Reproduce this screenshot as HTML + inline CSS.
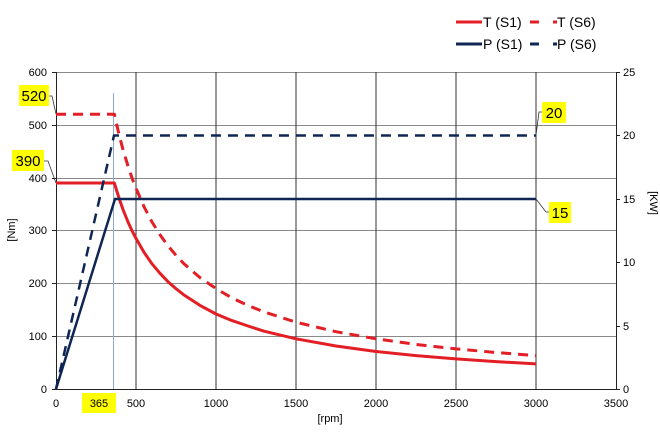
<!DOCTYPE html>
<html><head><meta charset="utf-8"><style>
body{margin:0;background:#fff;}
svg text{font-family:"Liberation Sans",Arial,sans-serif;}
</style></head><body>
<svg width="660" height="428" viewBox="0 0 660 428" xmlns="http://www.w3.org/2000/svg">
<rect width="660" height="428" fill="#fff"/>
<g stroke="#8a8a8a" stroke-width="1">
<line x1="56" y1="72.5" x2="616" y2="72.5"/>
<line x1="56" y1="125.5" x2="616" y2="125.5"/>
<line x1="56" y1="178.5" x2="616" y2="178.5"/>
<line x1="56" y1="230.5" x2="616" y2="230.5"/>
<line x1="56" y1="283.5" x2="616" y2="283.5"/>
<line x1="56" y1="336.5" x2="616" y2="336.5"/>
</g>
<g stroke="#333" stroke-width="1">
<line x1="136" y1="72" x2="136" y2="389"/>
<line x1="216" y1="72" x2="216" y2="389"/>
<line x1="296" y1="72" x2="296" y2="389"/>
<line x1="376" y1="72" x2="376" y2="389"/>
<line x1="456" y1="72" x2="456" y2="389"/>
<line x1="536" y1="72" x2="536" y2="389"/>
</g>
<line x1="113.5" y1="93" x2="113.5" y2="389" stroke="#8fa9cc" stroke-width="1"/>
<g stroke="#222" stroke-width="1">
<line x1="56.5" y1="72" x2="56.5" y2="389"/>
<line x1="616.5" y1="72" x2="616.5" y2="389"/>
<line x1="56" y1="389.5" x2="616" y2="389.5"/>
<line x1="52" y1="72.5" x2="56" y2="72.5"/><line x1="52" y1="125.5" x2="56" y2="125.5"/><line x1="52" y1="178.5" x2="56" y2="178.5"/><line x1="52" y1="230.5" x2="56" y2="230.5"/><line x1="52" y1="283.5" x2="56" y2="283.5"/><line x1="52" y1="336.5" x2="56" y2="336.5"/><line x1="52" y1="389.5" x2="56" y2="389.5"/>
<line x1="616" y1="72.5" x2="620" y2="72.5"/><line x1="616" y1="135.5" x2="620" y2="135.5"/><line x1="616" y1="199.5" x2="620" y2="199.5"/><line x1="616" y1="262.5" x2="620" y2="262.5"/><line x1="616" y1="326.5" x2="620" y2="326.5"/><line x1="616" y1="389.5" x2="620" y2="389.5"/>
</g>
<polyline fill="none" stroke="#e31e24" stroke-width="3" stroke-linejoin="round" points="56,183 114.4,183 116.8,191.1 120,201 123.2,210 128,222 132,230.7 136,238.4 144,252.3 152,263.8 160,273.3 168,281.7 176,288.7 184,295 200,305.4 216,314 232,320.6 248,326 264,331.2 296,338.8 336,346 376,351.5 416,355.6 456,358.9 496,361.6 536,363.9"/>
<polyline fill="none" stroke="#e31e24" stroke-width="3" stroke-dasharray="10,7" stroke-linejoin="round" points="56,114.3 114.4,114.3 116.8,125.1 120,138.3 123.2,150.3 128,166 132,177.9 136,188.2 144,206.7 152,222 160,234.7 168,245.8 176,255.3 184,263.8 200,277.6 216,288.6 232,297.9 248,305.5 264,311.9 296,322.2 336,331.7 376,338.8 416,344.4 456,348.9 496,352.5 536,355.6"/>
<polyline fill="none" stroke="#0f2553" stroke-width="2.5" points="56,389 115,199 536,199"/>
<polyline fill="none" stroke="#0f2553" stroke-width="2.5" stroke-dasharray="10,7" points="56,389 114,135.5 536,135.5"/>
<g font-size="11" fill="#000" text-anchor="end">
<text x="47" y="76">600</text><text x="47" y="129">500</text><text x="47" y="182">400</text><text x="47" y="234">300</text><text x="47" y="287">200</text><text x="47" y="340">100</text><text x="47" y="393">0</text>
</g>
<g font-size="11" fill="#000">
<text x="623" y="76">25</text><text x="623" y="139">20</text><text x="623" y="203">15</text><text x="623" y="266">10</text><text x="623" y="330">5</text><text x="623" y="393">0</text>
</g>
<g font-size="11" fill="#000" text-anchor="middle">
<text x="56" y="407">0</text><text x="136" y="407">500</text><text x="216" y="407">1000</text><text x="296" y="407">1500</text><text x="376" y="407">2000</text><text x="456" y="407">2500</text><text x="536" y="407">3000</text><text x="616" y="407">3500</text>
<text x="330" y="422">[rpm]</text>
</g>
<text transform="translate(15,230) rotate(-90)" font-size="11" text-anchor="middle">[Nm]</text>
<text transform="translate(650,203) rotate(90)" font-size="11" text-anchor="middle">[KW]</text>
<g stroke="#333" stroke-width="0.8" fill="none">
<polyline points="49,96 52,96 56,114"/>
<polyline points="44,161 48,161 56,183"/>
<polyline points="542,112 539,112 536,135"/>
<polyline points="549,212 546,212 536,199"/>
</g>
<g fill="#ffff00">
<rect x="19" y="85" width="30" height="21"/>
<rect x="12" y="150" width="32" height="21"/>
<rect x="542" y="102" width="24" height="21"/>
<rect x="549" y="202" width="22" height="21"/>
<rect x="82" y="393" width="34" height="20"/>
</g>
<g font-size="15" fill="#000" text-anchor="middle">
<text x="34" y="101">520</text><text x="28" y="166">390</text><text x="554" y="118">20</text><text x="560" y="218">15</text>
</g>
<text x="99" y="407" font-size="11" text-anchor="middle">365</text>
<line x1="456" y1="22" x2="482" y2="22" stroke="#e31e24" stroke-width="3"/>
<text x="483" y="27" font-size="14">T (S1)</text>
<line x1="530" y1="22" x2="539" y2="22" stroke="#e31e24" stroke-width="3"/>
<line x1="553" y1="22" x2="557" y2="22" stroke="#e31e24" stroke-width="3"/>
<text x="557" y="27" font-size="14">T (S6)</text>
<line x1="456" y1="44" x2="482" y2="44" stroke="#0f2553" stroke-width="3"/>
<text x="483" y="49" font-size="14">P (S1)</text>
<line x1="530" y1="44" x2="539" y2="44" stroke="#0f2553" stroke-width="3"/>
<line x1="553" y1="44" x2="557" y2="44" stroke="#0f2553" stroke-width="3"/>
<text x="557" y="49" font-size="14">P (S6)</text>
</svg>
</body></html>
